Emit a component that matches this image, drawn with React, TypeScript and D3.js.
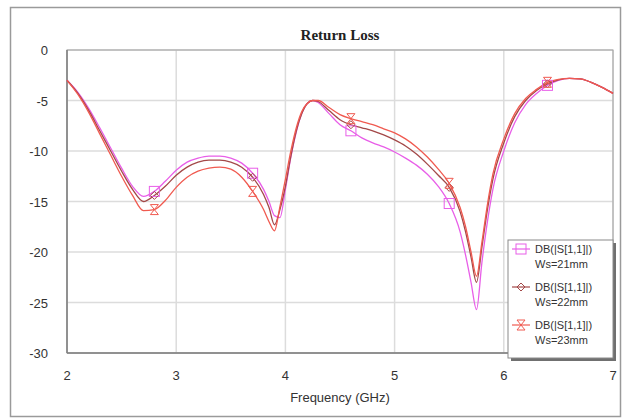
import React from 'react';
import * as d3 from 'd3';

const freq = [2, 2.1, 2.2, 2.3, 2.4, 2.5, 2.6, 2.7, 2.8, 2.9, 3.0, 3.1, 3.2, 3.3, 3.4, 3.5, 3.6, 3.7, 3.8, 3.85, 3.9, 3.95, 4.0, 4.05, 4.1, 4.15, 4.2, 4.25, 4.3, 4.4, 4.5, 4.6, 4.7, 4.8, 4.9, 5.0, 5.1, 5.2, 5.3, 5.4, 5.5, 5.6, 5.65, 5.7, 5.75, 5.8, 5.85, 5.9, 6.0, 6.1, 6.2, 6.3, 6.4, 6.5, 6.6, 6.7, 6.8, 6.9, 7.0];

const ws21 = [-3.0, -4.2, -5.8, -7.7, -9.7, -11.7, -13.5, -14.5, -14.0, -13.0, -11.9, -11.1, -10.7, -10.5, -10.5, -10.7, -11.2, -12.2, -13.8, -15.0, -16.4, -16.6, -13.8, -10.6, -8.1, -6.3, -5.3, -5.0, -5.2, -6.3, -7.4, -8.0, -8.7, -9.2, -9.6, -10.1, -10.7, -11.4, -12.3, -13.5, -15.2, -18.0, -20.3, -23.0, -25.7, -21.0, -17.0, -13.8, -10.0, -7.2, -5.4, -4.3, -3.5, -3.0, -2.8, -2.85, -3.2, -3.7, -4.3];
const ws22 = [-3.0, -4.3, -6.0, -8.0, -10.0, -12.0, -13.8, -15.0, -14.4, -13.5, -12.4, -11.6, -11.1, -10.9, -10.9, -11.1, -11.6, -12.6, -14.3, -15.6, -17.3, -15.8, -13.5, -10.5, -8.0, -6.3, -5.3, -5.0, -5.1, -6.0, -6.9, -7.4, -7.7, -8.0, -8.4, -8.9, -9.5, -10.3, -11.3, -12.4, -13.6, -16.0, -18.0, -20.5, -23.0, -19.5, -15.8, -12.8, -9.2, -6.6, -5.0, -4.0, -3.35, -2.95, -2.8, -2.85, -3.2, -3.7, -4.3];
const ws23 = [-3.0, -4.4, -6.2, -8.3, -10.4, -12.5, -14.4, -15.9, -15.8, -14.9, -13.6, -12.6, -12.0, -11.7, -11.6, -11.8, -12.6, -14.0, -15.8, -17.0, -17.9, -15.5, -12.8, -10.0, -7.7, -6.1, -5.3, -5.0, -5.0, -5.7, -6.4, -6.8, -7.1, -7.4, -7.8, -8.2, -8.8, -9.6, -10.6, -11.8, -13.2, -15.6, -17.5, -20.0, -22.4, -19.0, -15.3, -12.3, -8.8, -6.3, -4.8, -3.9, -3.2, -2.9, -2.8, -2.85, -3.2, -3.7, -4.3];

const markerFreqs = [2.8, 3.7, 4.6, 5.5, 6.4];
const xTicks = [2, 3, 4, 5, 6, 7];
const yTicks = [0, -5, -10, -15, -20, -25, -30];
const legendLabels = ['Ws=21mm', 'Ws=22mm', 'Ws=23mm'];

const series = [
  { values: ws21, color: '#e85ee8', marker: 'square' },
  { values: ws22, color: '#a34848', marker: 'diamond' },
  { values: ws23, color: '#f05a50', marker: 'hourglass' },
];

const margin = { left: 67, right: 10, top: 50, bottom: 65 };
const W = 623;
const H = 418;

function Marker({ type, x, y, color }: { type: string; x: number; y: number; color: string }) {
  if (type === 'square') {
    return <rect x={x - 5} y={y - 5} width={10} height={10} fill="none" stroke={color} strokeWidth={1} />;
  }
  if (type === 'diamond') {
    return <path d={`M${x},${y - 4}L${x + 4},${y}L${x},${y + 4}L${x - 4},${y}Z`} fill="none" stroke={color} strokeWidth={1} />;
  }
  return (
    <path
      d={`M${x - 4},${y - 5}L${x + 4},${y - 5}L${x - 4},${y + 5}L${x + 4},${y + 5}Z`}
      fill="none"
      stroke={color}
      strokeWidth={1}
    />
  );
}

export default function App() {
  const x = d3.scaleLinear().domain([2, 7]).range([margin.left, W - margin.right]);
  const y = d3.scaleLinear().domain([-30, 0]).range([H - margin.bottom, margin.top]);

  const line = d3.line<[number, number]>()
    .x(d => x(d[0]))
    .y(d => y(d[1]))
    .curve(d3.curveMonotoneX);

  const font = 'Arial, "Liberation Sans", sans-serif';

  return (
    <svg width={W} height={H} style={{ position: 'absolute', left: 0, top: 0, background: '#fff' }}>
      <rect x={10.5} y={7.5} width={610} height={409} fill="#fff" stroke="#9a9a9a" strokeWidth={1.5} />

      {/* grid */}
      {xTicks.map(t => (
        <line key={'gx' + t} x1={x(t)} x2={x(t)} y1={y(0)} y2={y(-30)} stroke="#dcdcdc" strokeWidth={1.5} />
      ))}
      {yTicks.map(t => (
        <line key={'gy' + t} x1={x(2)} x2={x(7)} y1={y(t)} y2={y(t)} stroke="#dcdcdc" strokeWidth={1.5} />
      ))}
      <rect x={x(2)} y={y(0)} width={x(7) - x(2)} height={y(-30) - y(0)} fill="none" stroke="#a0a0a0" strokeWidth={1} />
      <line x1={x(2)} x2={x(2)} y1={y(0)} y2={y(-30)} stroke="#808080" strokeWidth={1.5} />
      <line x1={x(2)} x2={x(7)} y1={y(-30)} y2={y(-30)} stroke="#808080" strokeWidth={1.5} />

      {/* curves */}
      {series.map((s, i) => (
        <path
          key={'s' + i}
          d={line(freq.map((f, j) => [f, s.values[j]] as [number, number])) || ''}
          fill="none"
          stroke={s.color}
          strokeWidth={1.3}
        />
      ))}
      {series.map((s, i) =>
        markerFreqs.map(mf => {
          const j = freq.indexOf(mf);
          return <Marker key={'m' + i + mf} type={s.marker} x={x(mf)} y={y(s.values[j])} color={s.color} />;
        })
      )}

      {/* axes labels */}
      {xTicks.map(t => (
        <text key={'tx' + t} x={x(t)} y={380} textAnchor="middle" fontFamily={font} fontSize={13} fill="#333">
          {t}
        </text>
      ))}
      {yTicks.map(t => (
        <text key={'ty' + t} x={48} y={y(t) + 5} textAnchor="end" fontFamily={font} fontSize={13} fill="#333">
          {t}
        </text>
      ))}
      <text x={340} y={402} textAnchor="middle" fontFamily={font} fontSize={13} fill="#333">
        Frequency (GHz)
      </text>
      <text x={340} y={40} textAnchor="middle" fontFamily='"Liberation Serif", "Times New Roman", serif' fontWeight="bold" fontSize={15} fill="#222">
        Return Loss
      </text>

      {/* legend */}
      <rect x={511} y={243} width={105} height={118} fill="#707070" />
      <rect x={508} y={240} width={105} height={118} fill="#fff" stroke="#8a8a8a" strokeWidth={1} />
      {series.map((s, i) => {
        const cy = 249 + i * 38;
        return (
          <g key={'lg' + i}>
            <line x1={512} x2={530} y1={cy} y2={cy} stroke={s.color} strokeWidth={1.2} />
            <Marker type={s.marker} x={521} y={cy} color={s.color} />
            <text x={535} y={cy + 4} fontFamily={font} fontSize={11} fill="#333">DB(|S[1,1]|)</text>
            <text x={535} y={cy + 19} fontFamily={font} fontSize={11} fill="#333">{legendLabels[i]}</text>
          </g>
        );
      })}
    </svg>
  );
}
